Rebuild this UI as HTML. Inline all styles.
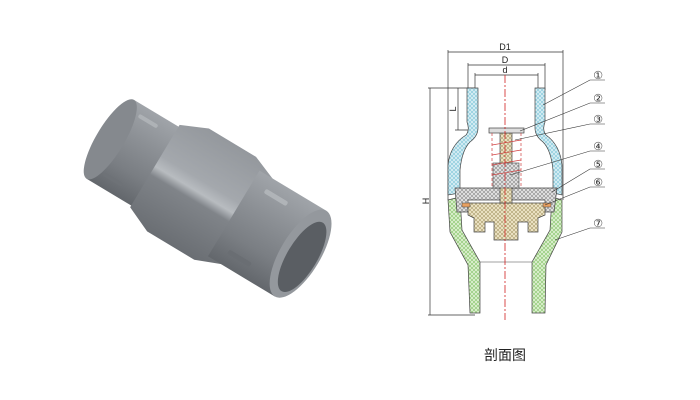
<!DOCTYPE html>
<html><head><meta charset="utf-8"><style>
html,body{margin:0;padding:0;background:#fff;}
svg{display:block;}
</style></head><body>
<svg width="700" height="400" viewBox="0 0 700 400" xmlns="http://www.w3.org/2000/svg">
<defs>
<linearGradient id="g1" x1="0" y1="0" x2="0" y2="1">
<stop offset="0" stop-color="#a0a4a9"/><stop offset="0.35" stop-color="#8c9095"/><stop offset="0.7" stop-color="#7a7e83"/><stop offset="1" stop-color="#63676c"/>
</linearGradient>
<linearGradient id="g2" x1="0" y1="0" x2="0" y2="1">
<stop offset="0" stop-color="#94989d"/><stop offset="0.4" stop-color="#a4a8ad"/><stop offset="0.5" stop-color="#b8bcc0"/><stop offset="0.58" stop-color="#808489"/><stop offset="1" stop-color="#6a6e73"/>
</linearGradient>
<pattern id="hb" width="4" height="4" patternUnits="userSpaceOnUse"><rect width="4" height="4" fill="#d8eef4"/><path d="M0 0L4 4M4 0L0 4" stroke="#7fc6d8" stroke-width="0.6"/></pattern>
<pattern id="hg" width="4" height="4" patternUnits="userSpaceOnUse"><rect width="4" height="4" fill="#ddf0d0"/><path d="M0 0L4 4M4 0L0 4" stroke="#86c46a" stroke-width="0.6"/></pattern>
<pattern id="hy" width="4" height="4" patternUnits="userSpaceOnUse"><rect width="4" height="4" fill="#efe6c8"/><path d="M0 0L4 4M4 0L0 4" stroke="#a89a6a" stroke-width="0.6"/></pattern>
<pattern id="hk" width="4" height="4" patternUnits="userSpaceOnUse"><rect width="4" height="4" fill="#e4e4e4"/><path d="M0 0L4 4M4 0L0 4" stroke="#888" stroke-width="0.6"/></pattern>
</defs>

<g transform="translate(208,198) rotate(31)">
  <path d="M-114,-46 L-55,-46 L-55,46 L-114,46 Z" fill="url(#g1)"/>
  <ellipse cx="-114" cy="0" rx="14" ry="46" fill="#85898e"/>
  <rect x="-102" y="-37" width="22" height="4" rx="2" fill="#aeb2b6"/>
  <rect x="-102" y="31" width="22" height="4" rx="2" fill="#6e7277"/>
  <path d="M-62,-48 L-35,-60 L20,-60 L55,-46 L55,46 L20,60 L-35,60 L-62,48 Z" fill="url(#g2)"/>
  <path d="M30,-50 L108,-50 L108,50 L30,50 Z" fill="url(#g1)"/>
  <rect x="45" y="-38" width="26" height="5" rx="2" fill="#b0b4b8"/>
  <rect x="45" y="33" width="26" height="5" rx="2" fill="#6a6e73"/>
  <ellipse cx="108" cy="0" rx="20" ry="50" fill="#94989d"/>
  <ellipse cx="111" cy="2" rx="15" ry="40" fill="#5a5e63"/>
</g>

<g font-family="Liberation Sans, sans-serif" fill="none" stroke="#333" stroke-width="0.7">
  <line x1="448" y1="52" x2="563" y2="52"/>
  <line x1="448" y1="50" x2="448" y2="200"/><line x1="563" y1="50" x2="563" y2="200"/>
  <line x1="468" y1="65" x2="545" y2="65"/>
  <line x1="468" y1="63" x2="468" y2="90"/><line x1="545" y1="63" x2="545" y2="90"/>
  <line x1="475" y1="75" x2="538" y2="75"/>
  <line x1="475" y1="73" x2="475" y2="92"/><line x1="538" y1="73" x2="538" y2="92"/>
  <line x1="428" y1="88" x2="475" y2="88"/>
  <line x1="430" y1="88" x2="430" y2="315"/>
  <line x1="428" y1="315" x2="475" y2="315"/>
  <line x1="458" y1="88" x2="458" y2="130"/>
  <line x1="455" y1="130" x2="478" y2="130"/>
</g>
<g font-family="Liberation Sans, sans-serif" font-size="9" fill="#222">
  <text x="505" y="50" text-anchor="middle">D1</text>
  <text x="505" y="63" text-anchor="middle">D</text>
  <text x="505" y="73" text-anchor="middle">d</text>
  <text x="425" y="205" transform="rotate(-90 425 201)" text-anchor="middle">H</text>
  <text x="453" y="112" transform="rotate(-90 453 109)" text-anchor="middle">L</text>
</g>
<path fill="url(#hb)" stroke="#444" stroke-width="0.7" d="M467,88 L478,88 L478,128 Q478,136 470,142 Q462,150 460,170 L460,193 L448,195 L448,165 Q450,145 466,135 Q470,130 467,122 Z"/>
<path fill="url(#hb)" stroke="#444" stroke-width="0.7" d="M545,88 L535,88 L535,128 Q535,136 543,142 Q551,150 553,170 L553,193 L562,195 L562,165 Q560,145 546,135 Q542,130 545,122 Z"/>
<path fill="url(#hg)" stroke="#444" stroke-width="0.7" d="M448,200 L460,197 L462,230 L480,262 L480,313 L470,313 L468,265 L450,232 Z"/>
<path fill="url(#hg)" stroke="#444" stroke-width="0.7" d="M562,200 L552,197 L550,230 L532,262 L532,313 L545,313 L546,265 L562,232 Z"/>
<line x1="480" y1="262" x2="532" y2="262" stroke="#444" stroke-width="0.6"/>
<path fill="url(#hk)" stroke="#444" stroke-width="0.7" d="M455,188 L557,188 L554,212 L545,212 L545,200 L468,200 L468,212 L457,212 Z"/>
<path fill="url(#hy)" stroke="#444" stroke-width="0.7" d="M468,203 L545,203 L545,215 L538,218 L538,232 L528,232 L528,222 L518,222 L518,240 L494,240 L494,222 L485,222 L485,232 L474,232 L474,218 L468,215 Z"/>
<path fill="url(#hy)" stroke="#444" stroke-width="0.7" d="M500,133 L512,133 L512,203 L500,203 Z"/>
<rect x="489" y="128" width="35" height="5" fill="#ddd" stroke="#444" stroke-width="0.7"/>
<rect x="493" y="163" width="26" height="25" fill="url(#hk)" stroke="#444" stroke-width="0.6"/>
<rect x="462" y="203" width="8" height="4" fill="#e8a060" stroke="#444" stroke-width="0.5"/>
<rect x="543" y="203" width="8" height="4" fill="#e8a060" stroke="#444" stroke-width="0.5"/>
<g stroke="#d04040" stroke-width="0.7" fill="none">
  <line x1="492" y1="133" x2="492" y2="188" stroke-dasharray="3,2"/>
  <line x1="521" y1="133" x2="521" y2="188" stroke-dasharray="3,2"/>
  <path d="M492,145 L521,140 M492,155 L521,150 M492,165 L521,160 M492,175 L521,170"/>
</g>
<line x1="505" y1="75" x2="505" y2="320" stroke="#d02020" stroke-width="0.8" stroke-dasharray="8,2,2,2"/>
<g stroke="#333" stroke-width="0.6" fill="none">
  <path d="M543,105 L590,80 L605,80"/>
  <path d="M520,131 L590,103 L605,103"/>
  <path d="M515,140 L590,124 L605,124"/>
  <path d="M510,175 L590,151 L605,151"/>
  <path d="M552,192 L590,169 L605,169"/>
  <path d="M545,205 L590,187 L605,187"/>
  <path d="M555,240 L590,228 L605,228"/>
</g>
<g font-family="Liberation Sans, DejaVu Sans, sans-serif" font-size="11" fill="#333" text-anchor="middle">
  <text x="598" y="79">①</text><text x="598" y="102">②</text><text x="598" y="123">③</text>
  <text x="598" y="150">④</text><text x="598" y="168">⑤</text><text x="598" y="186">⑥</text><text x="598" y="227">⑦</text>
</g>
<text x="505" y="360" text-anchor="middle" font-family="Liberation Sans, Noto Sans CJK SC, sans-serif" font-size="14" fill="#222">剖面图</text>
</svg>
</body></html>
